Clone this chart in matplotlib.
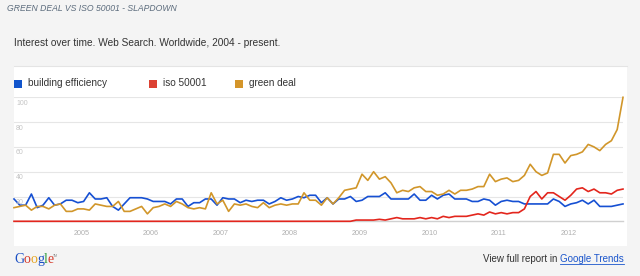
import numpy as np
import matplotlib
matplotlib.use("Agg")
import matplotlib.pyplot as plt
from matplotlib.patches import Rectangle

plt.rcParams['font.family'] = ['Liberation Sans', 'DejaVu Sans']

# monthly search interest, Jan 2004 .. Oct 2012
building_efficiency = [18, 13, 13, 22, 11, 13, 19, 13, 14, 17, 17, 15,
                       16, 23, 18, 18, 19, 12, 9, 14, 19, 19, 19, 18,
                       16, 16, 16, 14, 18, 18, 12, 15, 15, 18, 18, 13,
                       19, 18, 18, 15, 17, 16, 17, 17, 14, 16, 19, 17,
                       18, 20, 19, 21, 21, 15, 19, 14, 18, 18, 20, 16,
                       17, 20, 20, 20, 23, 18, 18, 18, 18, 22, 17, 17,
                       21, 18, 21, 22, 18, 18, 18, 16, 16, 18, 17, 13,
                       16, 17, 16, 16, 14, 14, 14, 14, 14, 18, 16, 12,
                       14, 15, 17, 14, 17, 12, 12, 12, 13, 14]
iso_50001 = [0] * 59 + [1, 1, 1, 1, 1.6, 1, 2, 3, 2, 2, 2, 3, 2,
                        3, 2, 4, 3, 4, 4, 4, 5, 6, 5, 7.5, 6,
                        7, 6, 7, 7, 10, 20, 24, 18, 23, 23, 20, 17,
                        21, 26, 27, 24, 26, 23, 23, 22, 25, 26]
green_deal = [11, 12, 13, 9, 12, 12, 10, 13, 14, 8, 8, 10,
              10, 9, 14, 13, 12, 12, 16, 8, 8, 10, 12, 6,
              11, 12, 14, 12, 16, 14, 11, 10, 11, 10, 23, 14,
              17, 8, 14, 13, 14, 12, 11, 15, 11, 13, 14, 13,
              14, 14, 23, 17, 17, 13, 19, 14, 19, 25, 26, 27,
              38, 33, 40, 34, 36, 31, 23, 25, 24, 27, 28, 24,
              24, 21, 22, 25, 22, 25, 25, 26, 28, 28, 38, 32,
              34, 35, 32, 33, 37, 46, 40, 37, 39, 54, 54, 47,
              53, 54, 56, 62, 60, 57, 62, 65, 74, 100]
years = ['2005', '2006', '2007', '2008', '2009', '2010', '2011', '2012']
y_ticks = [20, 40, 60, 80, 100]

series = [('building efficiency', building_efficiency, '#1650d3'),
          ('iso 50001', iso_50001, '#e3261d'),
          ('green deal', green_deal, '#d1962a')]

W, H = 640, 276
fig = plt.figure(figsize=(W / 100, H / 100), dpi=100, facecolor='#f4f4f4')

# white report panel
fig.patches.append(Rectangle((14 / W, 1 - 246 / H), 613 / W, 180 / H,
                             transform=fig.transFigure, facecolor='white',
                             edgecolor='none', zorder=-10))
fig.lines.append(plt.Line2D([14 / W, 627 / W], [1 - 65.5 / H] * 2,
                            transform=fig.transFigure, color='#e4e4e4',
                            lw=0.8, zorder=-5))

ax = fig.add_axes([14 / W, 1 - 221.3 / H, 609 / W, 124 / H])
ax.set_zorder(1)
ax.set_facecolor('none')
x = np.arange(len(green_deal))
for name, vals, col in series:
    ax.plot(x, vals, color=col, lw=1.2, clip_on=False, zorder=3)
ax.set_xlim(0, len(green_deal) - 1)
ax.set_ylim(0, 100)

ax.set_yticks(y_ticks)
ax.set_yticklabels([])
ax.tick_params(axis='y', length=0)
ax.grid(axis='y', color='#e6e6e6', lw=0.8)
for v in y_ticks:
    ax.annotate(str(v), xy=(0, v), xycoords=('axes fraction', 'data'),
                xytext=(2, -6), textcoords='offset pixels', fontsize=5,
                color='#c4c4c4', ha='left', va='center')

ax.set_xticks(np.arange(1, len(years) + 1) * 12 - 0.4)
ax.set_xticklabels(years, fontsize=5.2, color='#b0b0b0')
ax.tick_params(axis='x', length=0, pad=6)
for s in ['top', 'left', 'right']:
    ax.spines[s].set_visible(False)
ax.spines['bottom'].set_color('#d0d0d0')
ax.spines['bottom'].set_linewidth(1.0)

# texts
fig.text(7 / W, 1 - 8.5 / H, 'GREEN DEAL VS ISO 50001 - SLAPDOWN', fontsize=6.2,
         style='italic', color='#5b6b7c', va='center')
fig.text(14 / W, 1 - 43.5 / H,
         'Interest over time. Web Search. Worldwide, 2004 - present.',
         fontsize=7.3, color='#333333', va='center')

# legend
leg_x = [14, 149, 235]
leg_col = ['#1155cc', '#dc4132', '#d4952a']
for (name, vals, col), lx, lc in zip(series, leg_x, leg_col):
    fig.patches.append(Rectangle((lx / W, 1 - 87.5 / H), 7.5 / W, 8 / H,
                                 transform=fig.transFigure, facecolor=lc,
                                 edgecolor='none'))
    fig.text((lx + 14) / W, 1 - 83.5 / H, name, fontsize=7.2, color='#333333',
             va='center')

# footer
g_cols = ['#1a4fc4', '#d63a2b', '#e5a521', '#1a4fc4', '#2e9a3c', '#d63a2b']
gx = 14
for ch, c in zip('Google', g_cols):
    t = fig.text(gx / W, 1 - 259.5 / H, ch, fontsize=10, color=c,
                 family='Liberation Serif', va='center')
    fig.canvas.draw()
    gx += t.get_window_extent().width - 0.3
fig.text(gx / W, 1 - 256 / H, 'TM', fontsize=2.5, color='#888888', va='center')

t2 = fig.text(624 / W, 1 - 259.5 / H, 'Google Trends', fontsize=7,
              color='#1a55cc', ha='right', va='center')
fig.canvas.draw()
bb = t2.get_window_extent()
fig.lines.append(plt.Line2D([bb.x0 / W, bb.x1 / W], [(bb.y0 + 1) / H] * 2,
                            transform=fig.transFigure, color='#1a55cc', lw=0.6))
fig.text(bb.x0 / W, 1 - 259.5 / H, 'View full report in ', fontsize=7,
         color='#333333', ha='right', va='center')

fig.savefig('out.png', dpi=100, facecolor=fig.get_facecolor())
